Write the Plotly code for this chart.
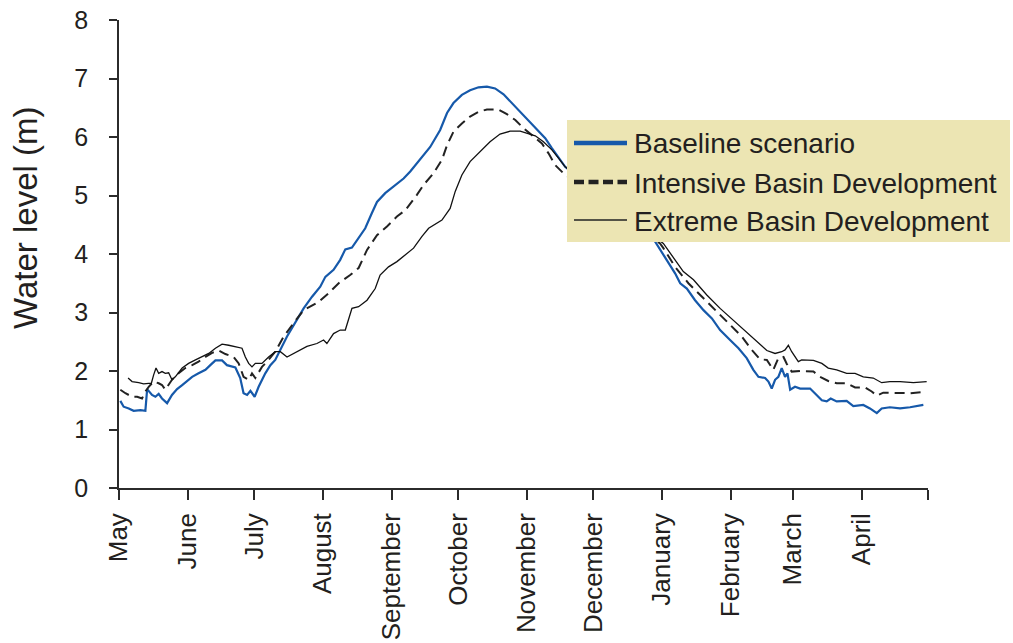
import plotly.graph_objects as go

# Hydrological year, May to April, as day-of-year offsets from 1 May
month_names = ["May", "June", "July", "August", "September", "October",
               "November", "December", "January", "February", "March", "April"]
month_start_days = [0, 31, 61, 92, 123, 153, 184, 214, 245, 276, 304, 335]
year_end_day = 365

# Baseline scenario (day, water level m)
baseline_days = [0.6, 2.1, 4.4, 6.6, 9.7, 11.9, 12.7, 14.9, 16.4, 17.9, 19.4, 21.7, 23.9, 26.2,
                 28.5, 30.7, 33.0, 35.9, 39.0, 41.2, 43.5, 46.5, 48.7, 52.5, 54.7, 56.2, 57.8,
                 59.3, 61.2, 63.0, 66.0, 68.3, 70.5, 75.8, 79.5, 83.3, 87.1, 90.8, 93.1, 96.8,
                 99.8, 102.1, 105.1, 108.1, 111.1, 114.1, 116.4, 120.1, 124.6, 128.4, 131.4,
                 135.2, 140.4, 144.9, 148.0, 150.9, 154.7, 158.4, 162.2, 166.0, 169.7, 173.5,
                 177.3, 181.0, 184.8, 188.5, 192.3, 195.3, 198.3, 201.3, 241.9, 245.6, 248.6,
                 250.9, 253.2, 256.2, 259.9, 263.7, 267.5, 271.2, 275.7, 279.5, 283.2, 286.2,
                 288.5, 291.5, 293.0, 294.5, 296.0, 297.5, 299.0, 300.5, 301.6, 302.8, 305.0,
                 307.3, 311.8, 314.8, 317.1, 319.3, 321.1, 323.8, 328.3, 331.3, 335.8, 338.8,
                 341.9, 344.1, 347.8, 352.4, 356.9, 362.9]
baseline_level = [1.49, 1.39, 1.36, 1.32, 1.33, 1.32, 1.69, 1.59, 1.56, 1.61, 1.53, 1.45, 1.59, 1.69,
                  1.76, 1.83, 1.90, 1.96, 2.02, 2.10, 2.18, 2.18, 2.10, 2.06, 1.88, 1.62, 1.59,
                  1.66, 1.56, 1.73, 1.96, 2.10, 2.19, 2.59, 2.82, 3.07, 3.27, 3.44, 3.61, 3.73,
                  3.90, 4.08, 4.11, 4.27, 4.44, 4.70, 4.89, 5.04, 5.18, 5.29, 5.41,
                  5.58, 5.83, 6.12, 6.41, 6.58, 6.72, 6.80, 6.85, 6.86, 6.83, 6.73,
                  6.58, 6.43, 6.27, 6.12, 5.98, 5.81, 5.64, 5.49, 4.21, 3.98, 3.81,
                  3.67, 3.50, 3.41, 3.21, 3.04, 2.90, 2.70, 2.53, 2.39, 2.22, 2.02,
                  1.90, 1.88, 1.82, 1.70, 1.85, 1.90, 2.05, 1.90, 1.96, 1.68, 1.73,
                  1.70, 1.70, 1.59, 1.50, 1.48, 1.53, 1.48, 1.49, 1.40, 1.42, 1.36,
                  1.28, 1.36, 1.38, 1.36, 1.38, 1.42]

# Intensive Basin Development
intensive_days = [0.6, 2.9, 5.9, 8.2, 10.4, 11.9, 13.4, 15.6, 17.9, 19.4, 20.9, 23.9, 26.9, 29.9,
                  33.0, 35.9, 39.0, 42.0, 45.0, 48.0, 51.7, 54.0, 56.2, 58.5, 60.0, 61.5, 64.5,
                  67.5, 70.5, 74.3, 78.8, 83.3, 90.1, 94.6, 99.1, 104.3, 108.1, 111.9, 116.4,
                  120.9, 125.4, 129.2, 134.4, 137.4, 141.9, 145.7, 148.0, 150.9, 154.7, 158.4,
                  162.2, 166.0, 171.2, 175.0, 178.8, 182.5, 187.0, 190.8, 193.8, 196.8, 200.5,
                  244.1, 245.6, 250.9, 256.9, 263.7, 269.7, 275.7, 281.0, 285.5, 289.2, 292.3,
                  295.2, 297.5, 299.8, 301.3, 303.5, 307.3, 313.3, 316.3, 320.0, 323.8, 328.3,
                  332.1, 336.6, 339.6, 341.9, 344.8, 350.9, 356.9, 362.9]
intensive_level = [1.68, 1.62, 1.56, 1.56, 1.53, 1.65, 1.73, 1.82, 1.79, 1.76, 1.68, 1.85, 1.96, 2.05,
                   2.10, 2.16, 2.24, 2.31, 2.35, 2.29, 2.24, 2.13, 1.90, 1.85, 1.96, 1.88, 2.07,
                   2.19, 2.33, 2.59, 2.82, 3.04, 3.18, 3.33, 3.50, 3.64, 3.76, 4.07, 4.32,
                   4.47, 4.64, 4.75, 5.01, 5.18, 5.38, 5.61, 5.86, 6.09, 6.23, 6.35,
                   6.43, 6.47, 6.47, 6.39, 6.29, 6.15, 6.01, 5.89, 5.72, 5.52, 5.38,
                   4.18, 4.10, 3.78, 3.50, 3.24, 3.01, 2.79, 2.59, 2.36, 2.20, 2.19,
                   2.02, 2.22, 2.24, 2.12, 1.99, 2.00, 1.99, 1.90, 1.83, 1.79, 1.79,
                   1.72, 1.72, 1.65, 1.58, 1.63, 1.62, 1.62, 1.64]

# Extreme Basin Development
extreme_days = [4.1, 5.9, 8.9, 11.1, 13.4, 14.6, 15.6, 16.7, 17.9, 19.4, 20.9, 22.4, 23.9, 25.4,
                28.5, 31.4, 34.5, 37.5, 40.5, 43.5, 46.5, 49.5, 52.5, 55.5, 57.0, 58.5, 60.0,
                61.5, 64.5, 67.5, 70.5, 72.8, 75.8, 80.3, 84.8, 89.3, 92.3, 93.8, 96.8, 99.8,
                102.1, 105.1, 108.1, 111.9, 115.6, 117.8, 121.6, 125.4, 129.2, 132.9, 136.7,
                139.7, 145.7, 149.4, 151.7, 154.7, 158.4, 162.9, 167.4, 171.9, 176.5, 181.0,
                184.0, 187.8, 191.5, 195.3, 198.3, 201.3, 245.6, 250.1, 254.6, 259.2, 265.2,
                271.2, 277.2, 283.2, 287.8, 292.3, 296.0, 299.0, 300.5, 302.0, 303.5, 305.0,
                306.5, 308.0, 313.3, 317.1, 320.0, 323.8, 328.3, 332.1, 335.8, 340.3, 344.1,
                347.8, 352.4, 358.4, 364.4]
extreme_level = [1.88, 1.82, 1.80, 1.78, 1.79, 1.79, 1.93, 2.05, 1.96, 1.99, 1.96, 1.97, 1.85, 1.90,
                 2.05, 2.13, 2.19, 2.24, 2.30, 2.39, 2.46, 2.44, 2.42, 2.39, 2.24, 2.13, 2.07,
                 2.13, 2.13, 2.24, 2.33, 2.33, 2.24, 2.33, 2.42, 2.47, 2.53, 2.47, 2.64, 2.70,
                 2.70, 3.07, 3.10, 3.21, 3.41, 3.64, 3.78, 3.87, 3.98, 4.10, 4.30,
                 4.44, 4.58, 4.78, 5.07, 5.35, 5.58, 5.75, 5.92, 6.05, 6.10, 6.10,
                 6.06, 6.02, 5.92, 5.78, 5.64, 5.49, 4.18, 3.95, 3.70, 3.56, 3.30,
                 3.07, 2.87, 2.67, 2.50, 2.35, 2.30, 2.33, 2.36, 2.44, 2.33, 2.24,
                 2.16, 2.19, 2.18, 2.13, 2.05, 2.02, 1.96, 1.96, 1.90, 1.88, 1.80,
                 1.82, 1.82, 1.80, 1.82]

series_names = ["Baseline scenario", "Intensive Basin Development", "Extreme Basin Development"]
y_title = "Water level (m)"

FONT = "Liberation Sans, Arial, Helvetica, sans-serif"
TEXT = "#231f20"
AXIS = "#2b2b2b"
BLUE = "#1659aa"

fig = go.Figure()
fig.add_trace(go.Scatter(x=baseline_days, y=baseline_level, mode="lines", name=series_names[0],
                         line=dict(color=BLUE, width=2.2)))
fig.add_trace(go.Scatter(x=intensive_days, y=intensive_level, mode="lines", name=series_names[1],
                         line=dict(color="#222222", width=2, dash="10px,6px")))
fig.add_trace(go.Scatter(x=extreme_days, y=extreme_level, mode="lines", name=series_names[2],
                         line=dict(color="#111111", width=1.3)))

fig.update_layout(
    width=1013, height=643,
    margin=dict(l=119, r=85, t=20, b=155, autoexpand=False),
    paper_bgcolor="white", plot_bgcolor="white",
    showlegend=False,
    font=dict(family=FONT, color=TEXT),
)

fig.update_xaxes(
    range=[0, year_end_day],
    tickmode="array",
    tickvals=month_start_days + [year_end_day],
    ticktext=month_names + [""],
    tickangle=-90,
    tickfont=dict(size=26, family=FONT, color=TEXT),
    ticks="outside", ticklen=10, tickwidth=1.5, tickcolor=AXIS,
    showline=True, linecolor=AXIS, linewidth=1.5,
    showgrid=False, zeroline=False, automargin=False,
    ticklabelstandoff=3,
)
fig.update_yaxes(
    range=[0, 8], dtick=1,
    tickfont=dict(size=25, family=FONT, color=TEXT),
    ticks="outside", ticklen=8, tickwidth=1.5, tickcolor=AXIS,
    showline=True, linecolor=AXIS, linewidth=1.5,
    showgrid=False, zeroline=False, automargin=False,
    ticklabelstandoff=16,
)

# Pixel-to-paper helpers for the plot area (119..928 x 20..488)
PW, PH = 809.0, 468.0
def px(xp):
    return (xp - 119) / PW
def py(yp):
    return (488 - yp) / PH

# Vertical axis title, sitting a little above the axis midpoint
fig.add_annotation(xref="paper", yref="paper", x=px(25), y=py(218),
                   xanchor="center", yanchor="middle", showarrow=False, textangle=-90,
                   text=y_title, font=dict(size=33, family=FONT, color=TEXT))

# Legend panel overlapping the right edge of the plot
fig.add_shape(type="rect", xref="paper", yref="paper", layer="above",
              x0=px(567), x1=px(1010), y0=py(242), y1=py(120),
              fillcolor="#ece5b3", line=dict(width=0))

legend_rows = [
    (143, dict(color=BLUE, width=4.5)),
    (182, dict(color="#222222", width=4.5, dash="10px,4.5px")),
    (220, dict(color="#222222", width=1.3)),
]
for (row_y, style), name in zip(legend_rows, series_names):
    fig.add_shape(type="line", xref="paper", yref="paper", layer="above",
                  x0=px(574), x1=px(627), y0=py(row_y), y1=py(row_y), line=style)
    fig.add_annotation(xref="paper", yref="paper", x=px(632), y=py(row_y + 1),
                       xanchor="left", yanchor="middle", showarrow=False,
                       text=name, font=dict(size=28, family=FONT, color=TEXT))

fig.write_html("out.html")
